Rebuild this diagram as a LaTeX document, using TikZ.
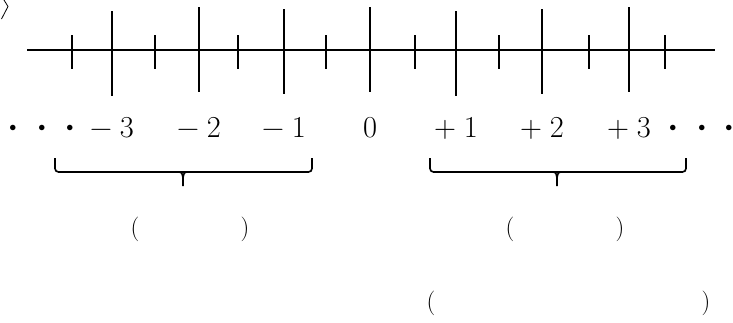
\documentclass[tikz,border=0pt]{standalone}
\usepackage{amsmath}
\usepackage{tikz}
\usetikzlibrary{positioning}
\definecolor{mydark}{RGB}{0,0,0}
\tikzset{
  axisline/.style={line width=1.8pt, color=mydark},
  longtick/.style={line width=1.5pt, color=mydark},
  shorttick/.style={line width=1.5pt, color=mydark},
  bracepath/.style={line width=1.4pt, color=mydark, rounded corners=3pt},
  numlabel/.style={inner sep=0pt, font=\fontsize{26}{30}\selectfont},
  dotlabel/.style={inner sep=0pt, font=\fontsize{12}{14}\selectfont},
  parlabel/.style={inner sep=0pt, font=\fontsize{21}{25}\selectfont}
}
\newcommand{\signnum}[2]{#1\hspace{0.26em}#2}

\begin{document}
\begin{tikzpicture}[x=0.03cm, y=-0.03cm]
  \useasboundingbox (0,0) rectangle (733,322);

  % Clipped mark at top left
  \draw[line width=0.7pt] (4,0) -- (8,6.5) -- (1.5,19);

  % Number line
  \draw[axisline] (27,50) -- (715,50);
  % Long ticks (x / top / bottom)
  \foreach \x/\t/\b in {112/11/96, 199/7/92, 284/9/94, 370/7/92,
                        456/11/96, 542/9/94, 629/7/92}
    \draw[longtick] (\x,\t) -- (\x,\b);
  % Short ticks
  \foreach \x in {72, 155, 238, 326, 415, 499, 589, 665}
    \draw[shorttick] (\x,35) -- (\x,69);

  % Labels
  \node[numlabel, anchor=base] (lm3) at (112,137) {\signnum{−}{3}};
  \node[numlabel, anchor=base] (lm2) at (199,137) {\signnum{−}{2}};
  \node[numlabel, anchor=base] (lm1) at (284,137) {\signnum{−}{1}};
  \node[numlabel, anchor=base] (l0)  at (370,137) {0};
  \node[numlabel, anchor=base] (lp1) at (456,137) {\signnum{+}{1}};
  \node[numlabel, anchor=base] (lp2) at (542,137) {\signnum{+}{2}};
  \node[numlabel, anchor=base] (lp3) at (629,137) {\signnum{+}{3}};
  % Dots
  \foreach \x [count=\i] in {13, 42, 70}
    \node[dotlabel] (dl\i) at (\x,128) {$\bullet$};
  \foreach \x [count=\i] in {673, 702, 729}
    \node[dotlabel] (dr\i) at (\x,128) {$\bullet$};

  % Left brace
  \draw[bracepath] (55,158) -- (55,172) -- (312,172) -- (312,158);
  \draw[line width=1.4pt] (176,172) .. controls (182,172) .. (183,178) -- (183,186);
  \draw[line width=1.4pt] (190,172) .. controls (184,172) .. (183,178);
  % Right brace
  \draw[bracepath] (430,158) -- (430,172) -- (686,172) -- (686,158);
  \draw[line width=1.4pt] (550,172) .. controls (556,172) .. (557,178) -- (557,186);
  \draw[line width=1.4pt] (564,172) .. controls (558,172) .. (557,178);

  % Parentheses
  \node[parlabel] (pl1) at (135,229) {(};
  \node[parlabel] (pr1) at (245,229) {)};
  \node[parlabel] (pl2) at (510,229) {(};
  \node[parlabel] (pr2) at (620,229) {)};
  \node[parlabel] (pl3) at (431,303) {(};
  \node[parlabel] (pr3) at (706,303) {)};
\end{tikzpicture}
\end{document}
